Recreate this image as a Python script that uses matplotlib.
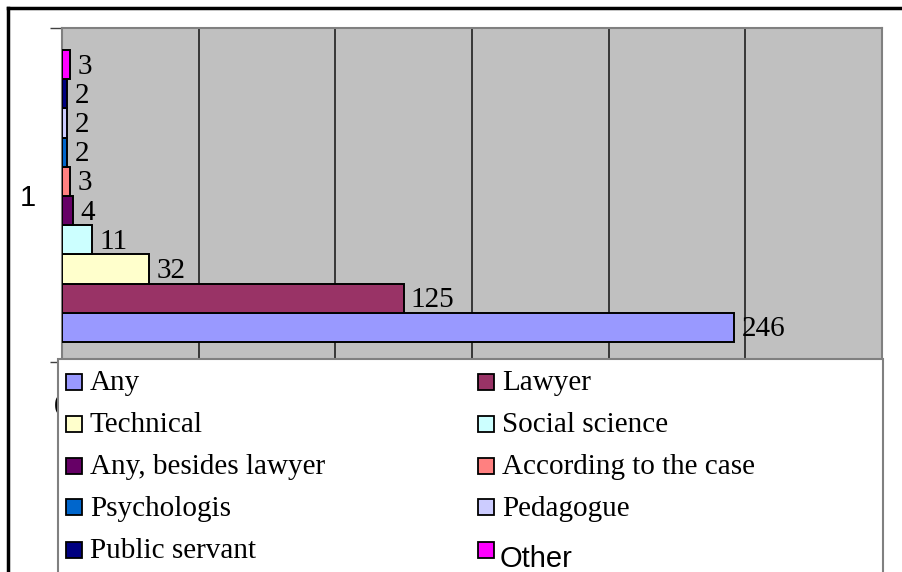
import matplotlib
matplotlib.use("Agg")
import matplotlib.pyplot as plt
from matplotlib.patches import Rectangle
from matplotlib.lines import Line2D

# ---- data ----
categories = ["Any", "Lawyer", "Technical", "Social science", "Any, besides lawyer",
              "According to the case", "Psychologis", "Pedagogue", "Public servant", "Other"]
values = [246, 125, 32, 11, 4, 3, 2, 2, 2, 3]
colors = ["#9999FF", "#993366", "#FFFFCC", "#CCFFFF", "#660066",
          "#FF8080", "#0066CC", "#CCCCFF", "#000080", "#FF00FF"]
x_ticks = [0, 50, 100, 150, 200, 250, 300]
x_ticklabels = ["0", "", "", "", "", "", ""]
category_label = "1"

W, H = 902, 572
fig = plt.figure(figsize=(W / 100, H / 100), dpi=100)
fig.patch.set_facecolor("white")

def fx(x):
    return x / W

def fy(y):
    return 1 - y / H

serif = "Liberation Serif"
sans = "Liberation Sans"
FS = 21

# plot area
L, T, R, B = 62, 28, 882, 362
ax = fig.add_axes([fx(L), fy(B), fx(R) - fx(L), fy(T) - fy(B)])
ax.set_facecolor("#C0C0C0")
span = 10 / (292 / 334)
base = (B - 342) / (B - T) * span
ax.set_ylim(0, span)
ax.set_xlim(0, 300)

for i, (v, c) in enumerate(zip(values, colors)):
    yc = base + i + 0.5
    ax.barh(yc, v, height=1.0, color=c, edgecolor="black", linewidth=1.4, zorder=3)
    ax.annotate(str(v), xy=(v, yc), xytext=(5, -1.5), textcoords="offset points",
                ha="left", va="center", fontsize=FS, family=serif, color="black", zorder=4)

ax.set_xticks(x_ticks)
ax.set_xticklabels(x_ticklabels)
ax.xaxis.grid(True, color="#202020", linewidth=1.2, zorder=1)
ax.set_axisbelow(True)
ax.tick_params(axis="x", length=0, pad=22)
for lab in ax.get_xticklabels():
    lab.set_fontfamily(sans)
    lab.set_fontsize(FS)

ax.set_yticks([0, span])
ax.set_yticklabels(["", ""])
ax.tick_params(axis="y", direction="out", length=9, width=1, color="#404040")
ax.set_yticks([span / 2], minor=True)
ax.set_yticklabels([category_label], minor=True, fontsize=FS, family=sans)
ax.tick_params(axis="y", which="minor", length=0, pad=19)
for s in ax.spines.values():
    s.set_color("#808080")
    s.set_linewidth(1.5)

# outer frame
fig.add_artist(Line2D([fx(8), fx(8)], [fy(8), fy(H + 5)], color="black", lw=2.5, zorder=10))
fig.add_artist(Line2D([fx(8), fx(W + 5)], [fy(8), fy(8)], color="black", lw=2.5, zorder=10))

# legend box
lg_l, lg_t, lg_r = 58, 359, 883
fig.add_artist(Rectangle((fx(lg_l), fy(H + 10)), fx(lg_r) - fx(lg_l), fy(lg_t) - fy(H + 10),
                         facecolor="white", edgecolor="#808080", linewidth=1.5,
                         transform=fig.transFigure, zorder=5))
row_y = [382, 424, 466, 507, 550]
col_x = [66, 478]
sq = 16
for k, (name, c) in enumerate(zip(categories, colors)):
    r, col = divmod(k, 2)
    yc = row_y[r]
    x0 = col_x[col]
    fig.add_artist(Rectangle((fx(x0), fy(yc + sq / 2)), fx(sq), sq / H,
                             facecolor=c, edgecolor="black", linewidth=1.3,
                             transform=fig.transFigure, zorder=6))
    if name == "Other":
        fig.text(fx(x0 + 22), fy(567), name, fontsize=FS, family=sans,
                 ha="left", va="baseline", zorder=7)
    else:
        fig.text(fx(x0 + 24), fy(yc + 8.5), name, fontsize=FS, family=serif,
                 ha="left", va="baseline", zorder=7)

fig.savefig("out.png", dpi=100)
